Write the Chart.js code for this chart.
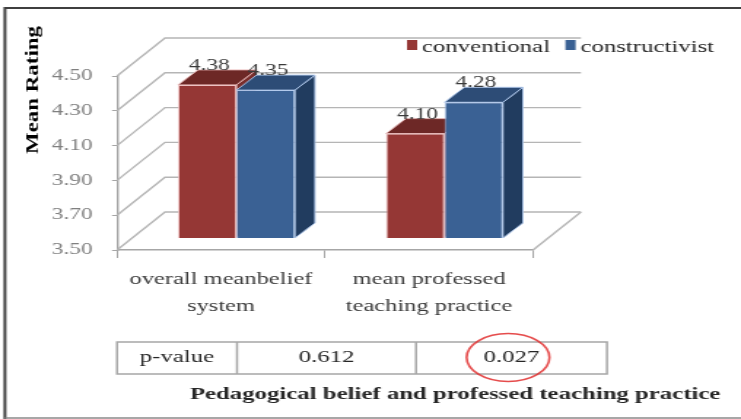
<!DOCTYPE html>
<html lang="en">
<head>
  <meta charset="UTF-8" />
  <title>Mean Rating</title>
  <script src="https://cdn.jsdelivr.net/npm/chart.js"></script>
  <style>
    body { margin: 0; background: #fff; }
  </style>
</head>
<body>
  <!-- o canvas e desenhado estreito e esticado na horizontal, como no original -->
  <canvas id="grafico" width="508" height="419" style="width:741px;height:419px"></canvas>

<script>
  // dados
  var categorias = [["overall meanbelief", "system"], ["mean professed", "teaching practice"]];
  var conventional = [4.38, 4.10];
  var constructivist = [4.35, 4.28];
  var yTicks = [3.50, 3.70, 3.90, 4.10, 4.30, 4.50];
  var pValues = ["0.612", "0.027"];

  const serif = '"Liberation Serif", "Times New Roman", serif';

  const DX = 32.9, DY = -38;   // profundidade das paredes
  const BX = 10.6, BY = -12;   // barras ficam no meio da profundidade
  const PX = 13.7, PY = -15;   // profundidade das barras

  const efeito3d = {
    id: "efeito3d",
    beforeDatasetsDraw(chart) {
      const ctx = chart.ctx, a = chart.chartArea, y = chart.scales.y;
      ctx.save();
      // linhas de grade (parede lateral + fundo)
      ctx.strokeStyle = "#b5b5b5";
      ctx.lineWidth = 1.4;
      y.ticks.forEach(function (t) {
        const py = y.getPixelForValue(t.value);
        ctx.beginPath();
        ctx.moveTo(a.left, py);
        ctx.lineTo(a.left + DX, py + DY);
        ctx.lineTo(a.right + DX, py + DY);
        ctx.stroke();
      });
      // lado direito do chao
      ctx.beginPath();
      ctx.moveTo(a.right, a.bottom);
      ctx.lineTo(a.right + DX, a.bottom + DY);
      ctx.stroke();

      // topo e lateral das barras
      const base = a.bottom + BY;
      chart.data.datasets.forEach(function (ds, i) {
        chart.getDatasetMeta(i).data.forEach(function (bar) {
          const x1 = bar.x - bar.width / 2 + BX;
          const x2 = bar.x + bar.width / 2 + BX;
          const top = bar.y + BY;
          ctx.strokeStyle = ds.borderColor;
          ctx.lineWidth = 1;
          ctx.fillStyle = ds.corLado;
          ctx.beginPath();
          ctx.moveTo(x2, top);
          ctx.lineTo(x2 + PX, top + PY);
          ctx.lineTo(x2 + PX, base + PY);
          ctx.lineTo(x2, base);
          ctx.closePath();
          ctx.fill();
          ctx.stroke();
          ctx.fillStyle = ds.corTopo;
          ctx.beginPath();
          ctx.moveTo(x1, top);
          ctx.lineTo(x2, top);
          ctx.lineTo(x2 + PX, top + PY);
          ctx.lineTo(x1 + PX, top + PY);
          ctx.closePath();
          ctx.fill();
          ctx.stroke();
        });
      });
      ctx.restore();

      ctx.save();
      ctx.translate(BX, BY);
    },
    afterDatasetsDraw(chart) {
      const ctx = chart.ctx;
      ctx.restore();

      // valores em cima das barras
      ctx.save();
      ctx.font = "16px " + serif;
      ctx.fillStyle = "#3a3a3a";
      ctx.textAlign = "center";
      ctx.textBaseline = "alphabetic";
      chart.data.datasets.forEach(function (ds, i) {
        chart.getDatasetMeta(i).data.forEach(function (bar, j) {
          ctx.fillText(ds.data[j].toFixed(2), bar.x + BX + 1.5, bar.y + BY + PY);
        });
      });
      ctx.restore();
    },
    afterDraw(chart) {
      const ctx = chart.ctx;
      ctx.save();

      // legenda
      ctx.font = "17px " + serif;
      ctx.textBaseline = "alphabetic";
      ctx.textAlign = "left";
      var lx = 279;
      chart.data.datasets.forEach(function (ds) {
        ctx.fillStyle = ds.backgroundColor;
        ctx.fillRect(lx, 40, 7, 10);
        ctx.fillStyle = "#262626";
        ctx.fillText(ds.label, lx + 10.3, 52);
        lx += 10.3 + ctx.measureText(ds.label).width + 10.5;
      });

      // titulo do eixo y
      ctx.save();
      ctx.translate(23, 90);
      ctx.rotate(-Math.PI / 2);
      ctx.font = "bold 11.5px " + serif;
      const w = ctx.measureText("Mean Rating").width;
      ctx.scale(128 / w, 1);
      ctx.fillStyle = "#000";
      ctx.textAlign = "center";
      ctx.textBaseline = "middle";
      ctx.fillText("Mean Rating", 0, 0);
      ctx.restore();

      // tabela do p-value
      const tx = [80.2, 162.5, 285.2, 416.1], ty1 = 342, ty2 = 374;
      ctx.strokeStyle = "#a6a6a6";
      ctx.lineWidth = 1.5;
      ctx.strokeRect(tx[0], ty1, tx[3] - tx[0], ty2 - ty1);
      ctx.beginPath();
      ctx.moveTo(tx[1], ty1); ctx.lineTo(tx[1], ty2);
      ctx.moveTo(tx[2], ty1); ctx.lineTo(tx[2], ty2);
      ctx.stroke();
      ctx.font = "17px " + serif;
      ctx.fillStyle = "#262626";
      ctx.textAlign = "center";
      ctx.textBaseline = "middle";
      var celulas = ["p-value"].concat(pValues);
      celulas.forEach(function (t, i) {
        ctx.fillText(t, (tx[i] + tx[i + 1]) / 2, 358);
      });

      // circulo vermelho no 0.027
      ctx.strokeStyle = "rgba(225, 45, 45, 0.85)";
      ctx.lineWidth = 1.6;
      ctx.beginPath();
      ctx.ellipse(348.3, 357.5, 28.4, 24, 0, 0, Math.PI * 2);
      ctx.stroke();

      // titulo de baixo
      ctx.font = "bold 17px " + serif;
      ctx.fillStyle = "#262626";
      ctx.fillText("Pedagogical belief and professed teaching practice", 312, 395);

      // moldura
      ctx.strokeStyle = "#3f3f3f";
      ctx.lineWidth = 2;
      ctx.beginPath();
      ctx.moveTo(3.4, 419); ctx.lineTo(3.4, 8); ctx.lineTo(508, 8);
      ctx.stroke();
      ctx.strokeStyle = "#8a8a8a";
      ctx.lineWidth = 1.5;
      ctx.beginPath();
      ctx.moveTo(3.4, 418); ctx.lineTo(508, 418);
      ctx.stroke();

      ctx.restore();
    }
  };

  const grafico = document.getElementById("grafico").getContext("2d");

  const dadosGrafico = {
    labels: categorias,
    datasets: [{
        label: "conventional",
        data: conventional,
        backgroundColor: "#953735",
        borderColor: "rgba(235, 190, 190, 0.9)",
        corTopo: "#6d2826",
        corLado: "#792d2b",
        borderWidth: 1,
      },
      {
        label: "constructivist",
        data: constructivist,
        backgroundColor: "#3a6194",
        borderColor: "rgba(175, 200, 235, 0.9)",
        corTopo: "#2d4c76",
        corLado: "#213c5f",
        borderWidth: 1,
      },
    ],
  };

  const configuracao = {
    type: "bar",
    data: dadosGrafico,
    options: {
      responsive: false,
      animation: false,
      devicePixelRatio: 1,
      categoryPercentage: 0.5625,
      barPercentage: 1,
      layout: { padding: { left: 0, right: 142.6, top: 76, bottom: 0 } },
      plugins: { legend: { display: false }, tooltip: { enabled: false } },
      scales: {
        y: {
          min: 3.5,
          max: 4.5,
          afterBuildTicks: function (s) { s.ticks = yTicks.map(function (v) { return { value: v }; }); },
          afterFit: function (s) { s.width = 80.2; },
          ticks: {
            callback: function (v) { return Number(v).toFixed(2); },
            font: { family: serif, size: 16 },
            color: "#808080",
            padding: 13.3,
          },
          grid: { drawOnChartArea: false, tickLength: 3.4, color: "#a6a6a6" },
          border: { color: "#a6a6a6", width: 1.4 },
        },
        x: {
          afterFit: function (s) { s.height = 169; },
          ticks: {
            font: { family: serif, size: 16.8, lineHeight: "27px" },
            color: "#3a3a3a",
            padding: 8.5,
          },
          grid: { offset: true, drawOnChartArea: false, tickLength: 8, color: "#a6a6a6" },
          border: { color: "#a6a6a6", width: 1.4 },
        },
      },
    },
    plugins: [efeito3d],
  };

  const graficoBarras = new Chart(grafico, configuracao);
</script>
</body>
</html>
